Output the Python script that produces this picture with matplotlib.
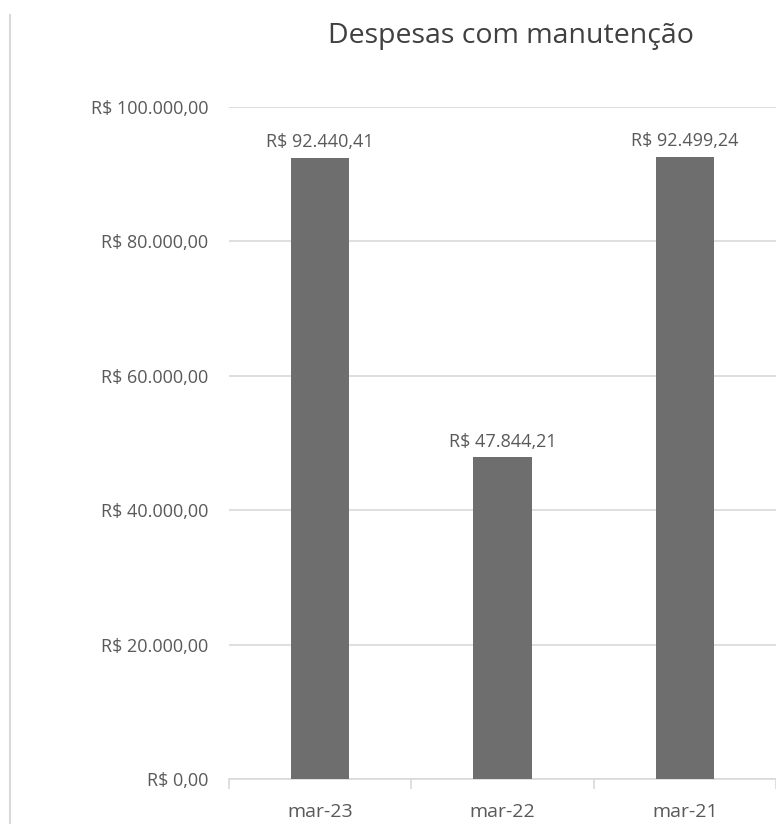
import matplotlib
matplotlib.use('Agg')
import matplotlib.pyplot as plt
from matplotlib.lines import Line2D
from matplotlib.ticker import FuncFormatter

# data
categorias = ['mar-23', 'mar-22', 'mar-21']
valores = [92440.41, 47844.21, 92499.24]
y_ticks = [0, 20000, 40000, 60000, 80000, 100000]


def brl(v, pos=None):
    s = f'{v:,.2f}'.replace(',', 'X').replace('.', ',').replace('X', '.')
    return f'R$ {s}'


plt.rcParams['font.family'] = ['Open Sans', 'DejaVu Sans']
txt = '#595959'
grid = '#d9d9d9'

W, H = 776, 824
fig = plt.figure(figsize=(W / 100, H / 100), dpi=100)
fig.patch.set_facecolor('white')

# plot area in pixels: x 229..776 (cropped right side), y 107..779
x0, x1, ytop, ybot = 229, 776, 107, 779
ax = fig.add_axes([x0 / W, 1 - ybot / H, (x1 - x0) / W, (ybot - ytop) / H])

xs = range(len(categorias))
ax.bar(xs, valores, width=0.32, color='#6e6e6e', zorder=3)

for x, v in zip(xs, valores):
    ax.annotate(brl(v), (x, v), xytext=(0, 5), textcoords='offset points',
                ha='center', va='bottom', fontsize=13, color=txt)

cat_w = 185
ax.set_xlim(-0.5, -0.5 + (x1 - x0) / cat_w)
ax.set_ylim(0, 100000)
ax.set_yticks(y_ticks)
ax.yaxis.set_major_formatter(FuncFormatter(brl))
ax.set_xticks(list(xs))
ax.set_xticklabels(categorias)
ax.set_xticks([-0.5, 0.5, 1.5, 2.5], minor=True)

ax.grid(axis='y', color=grid, linewidth=1.2, zorder=0)
for s in ['top', 'right', 'left']:
    ax.spines[s].set_visible(False)
ax.spines['bottom'].set_color(grid)
ax.spines['bottom'].set_linewidth(1.2)

ax.tick_params(axis='y', length=0, pad=15, labelsize=13, labelcolor=txt)
ax.tick_params(axis='x', which='major', length=0, pad=17, labelsize=14, labelcolor=txt)
ax.tick_params(axis='x', which='minor', length=7, width=1.2, color=grid)

fig.text(511 / W, 1 - 43 / H, 'Despesas com manutenção', ha='center', va='baseline',
         fontsize=20.5, color='#404040')

# left border line of the original picture
fig.add_artist(Line2D([10 / W, 10 / W], [0, 1 - 15 / H], transform=fig.transFigure,
                      color=grid, linewidth=1.5))

fig.savefig('out.png', dpi=100)
